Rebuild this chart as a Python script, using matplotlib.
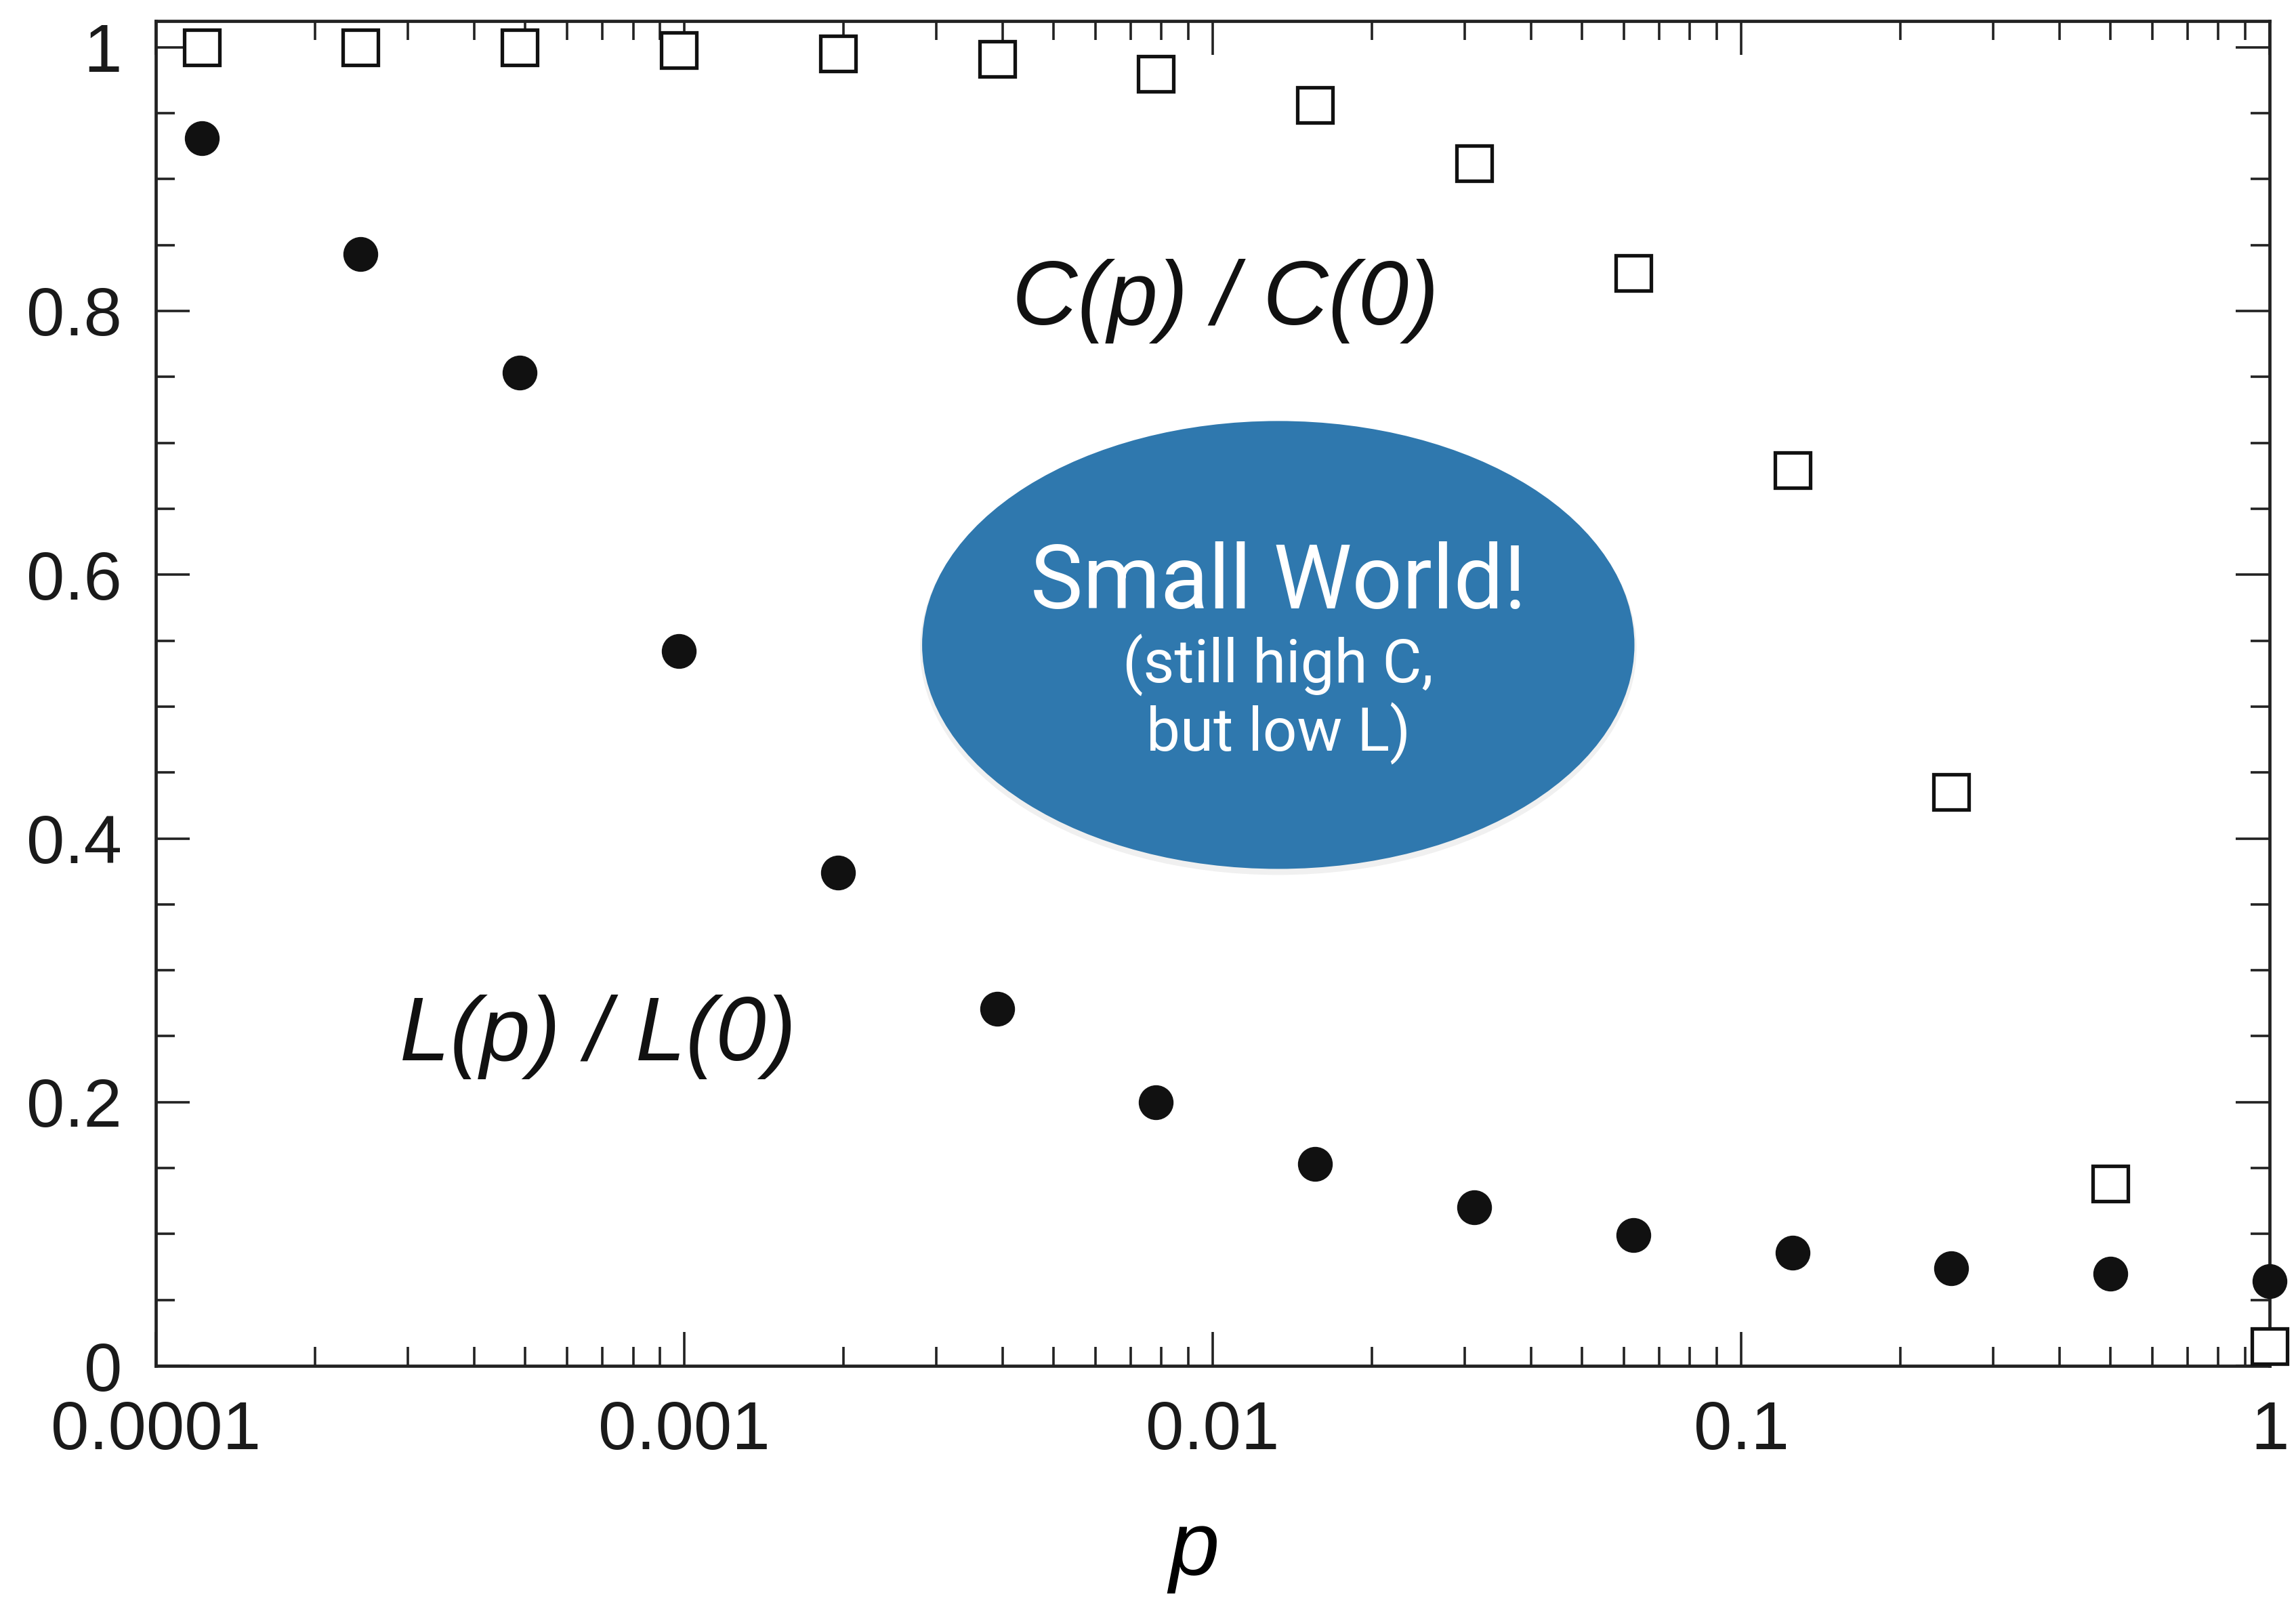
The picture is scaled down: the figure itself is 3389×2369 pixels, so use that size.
import matplotlib
matplotlib.use("Agg")
import matplotlib.pyplot as plt
from matplotlib.patches import Ellipse
from matplotlib.ticker import LogLocator, MultipleLocator, NullFormatter

# rewiring probability p = 1/2^k
p_values = [1 / 8192, 1 / 4096, 1 / 2048, 1 / 1024, 1 / 512, 1 / 256, 1 / 128,
            1 / 64, 1 / 32, 1 / 16, 1 / 8, 1 / 4, 1 / 2, 1.0]
L_ratio = [0.931, 0.843, 0.753, 0.542, 0.374, 0.271, 0.200,
           0.153, 0.120, 0.099, 0.086, 0.074, 0.070, 0.064]
C_ratio = [1.000, 1.000, 1.000, 0.998, 0.995, 0.991, 0.980,
           0.956, 0.912, 0.829, 0.679, 0.435, 0.138, 0.015]

x_ticks = [1e-4, 1e-3, 1e-2, 1e-1, 1]
x_labels = ["0.0001", "0.001", "0.01", "0.1", "1"]
y_ticks = [0, 0.2, 0.4, 0.6, 0.8, 1]
y_labels = ["0", "0.2", "0.4", "0.6", "0.8", "1"]

plt.rcParams["font.family"] = ["Liberation Sans", "DejaVu Sans"]

fig = plt.figure(figsize=(33.89, 23.69), dpi=100)
ax = fig.add_axes([0.0679, 0.149, 0.9206, 0.838])

ax.plot(p_values, C_ratio, "s", ms=37, mfc="white", mec="#111111", mew=3.8,
        clip_on=False, zorder=3)
ax.plot(p_values, L_ratio, "o", ms=36, mfc="#111111", mec="#111111",
        clip_on=False, zorder=3)

ax.set_xscale("log")
ax.set_xlim(1e-4, 1)
ax.set_ylim(0, 1.02)

ax.set_xticks(x_ticks)
ax.set_xticklabels(x_labels)
ax.xaxis.set_minor_locator(LogLocator(base=10, subs=range(2, 10)))
ax.xaxis.set_minor_formatter(NullFormatter())
ax.set_yticks(y_ticks)
ax.set_yticklabels(y_labels)
ax.yaxis.set_minor_locator(MultipleLocator(0.05))

ax.tick_params(which="both", direction="in", top=True, right=True,
               width=2.6, color="#222222", labelsize=73, pad=36,
               labelcolor="#1a1a1a")
ax.tick_params(which="major", length=36)
ax.tick_params(which="minor", length=20)
for s in ax.spines.values():
    s.set_linewidth(3.4)
    s.set_color("#222222")

ax.set_xlabel("p", style="italic", fontsize=96)
ax.xaxis.set_label_coords(0.491, -0.155)
ax.xaxis.label.set_va("baseline")

ax.text(0.506, 0.774, "C(p) / C(0)", transform=ax.transAxes, ha="center",
        va="baseline", fontsize=96, style="italic", color="#111111")
ax.text(0.209, 0.227, "L(p) / L(0)", transform=ax.transAxes, ha="center",
        va="baseline", fontsize=96, style="italic", color="#111111")

# callout bubble
shadow = Ellipse((0.531, 0.533), 0.339, 0.336, transform=ax.transAxes,
                 facecolor="#000000", alpha=0.06, edgecolor="none", zorder=4)
ax.add_patch(shadow)
bubble = Ellipse((0.531, 0.536), 0.337, 0.333, transform=ax.transAxes,
                 facecolor="#2f78ae", edgecolor="none", zorder=5)
ax.add_patch(bubble)
ax.text(0.531, 0.563, "Small World!", transform=ax.transAxes, ha="center",
        va="baseline", fontsize=94, color="white", family="Roboto",
        weight="normal", zorder=6)
ax.text(0.531, 0.508, "(still high C,", transform=ax.transAxes, ha="center",
        va="baseline", fontsize=64, color="white", family="Roboto",
        weight="normal", zorder=6)
ax.text(0.531, 0.457, "but low L)", transform=ax.transAxes, ha="center",
        va="baseline", fontsize=64, color="white", family="Roboto",
        weight="normal", zorder=6)

fig.savefig("out.png", dpi=100, facecolor="white")
